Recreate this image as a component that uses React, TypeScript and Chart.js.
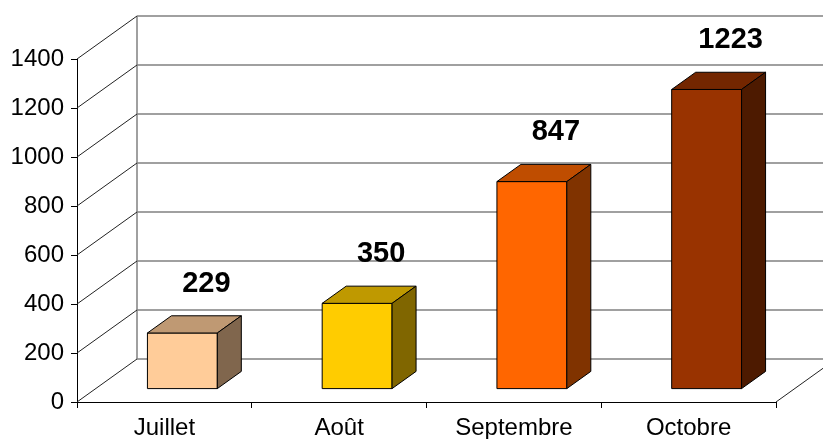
import React, { useEffect, useRef } from 'react';
import { Chart, registerables } from 'chart.js';

Chart.register(...registerables);

// ---- data ----
const categories = ['Juillet', 'Août', 'Septembre', 'Octobre'];
const values = [229, 350, 847, 1223];
const barColors = ['#FFCC99', '#FFCC00', '#FF6600', '#993300'];
const yMin = 0;
const yMax = 1400;
const yStep = 200;

// ---- 3D style constants ----
const DX = 60;
const DY = -43;
const BAR_FRONT = 0.3;
const BAR_BACK = 0.7;
const LABEL_OFFSET = 62;
const AXIS_FONT = "'Liberation Sans', Arial, sans-serif";
const LABEL_FONT = "bold 29px 'Liberation Sans', Arial, sans-serif";

function shade(hex: string, f: number): string {
  const n = parseInt(hex.slice(1), 16);
  const r = Math.round(((n >> 16) & 255) * f);
  const g = Math.round(((n >> 8) & 255) * f);
  const b = Math.round((n & 255) * f);
  return `rgb(${r},${g},${b})`;
}

const threeD = {
  id: 'threeD',
  beforeDatasetsDraw(chart: any) {
    const { ctx, chartArea } = chart;
    const { left, right } = chartArea;
    const ys = chart.scales.y;
    ctx.save();
    // back wall gridlines
    ctx.strokeStyle = '#808080';
    ctx.lineWidth = 1.5;
    for (let v = yMin; v <= yMax; v += yStep) {
      const py = ys.getPixelForValue(v);
      ctx.beginPath();
      ctx.moveTo(left + DX, py + DY);
      ctx.lineTo(right + DX, py + DY);
      ctx.stroke();
    }
    // back wall left edge
    ctx.beginPath();
    ctx.moveTo(left + DX, ys.getPixelForValue(yMin) + DY);
    ctx.lineTo(left + DX, ys.getPixelForValue(yMax) + DY);
    ctx.stroke();
    // side wall diagonals
    ctx.strokeStyle = '#222';
    ctx.lineWidth = 1;
    for (let v = yMin; v <= yMax; v += yStep) {
      const py = ys.getPixelForValue(v);
      ctx.beginPath();
      ctx.moveTo(left, py);
      ctx.lineTo(left + DX, py + DY);
      ctx.stroke();
    }
    // floor right diagonal
    const y0 = ys.getPixelForValue(yMin);
    ctx.beginPath();
    ctx.moveTo(right, y0);
    ctx.lineTo(right + DX, y0 + DY);
    ctx.stroke();
    ctx.restore();
  },
  afterDatasetsDraw(chart: any) {
    const { ctx } = chart;
    const meta = chart.getDatasetMeta(0);
    ctx.save();
    ctx.lineWidth = 1;
    ctx.strokeStyle = '#000';
    ctx.lineJoin = 'miter';
    meta.data.forEach((bar: any, i: number) => {
      const { x, y, base, width } = bar.getProps(['x', 'y', 'base', 'width'], true);
      const color = barColors[i];
      const fx0 = x - width / 2 + BAR_FRONT * DX;
      const fx1 = fx0 + width;
      const fyTop = y + BAR_FRONT * DY;
      const fyBot = base + BAR_FRONT * DY;
      const ddx = (BAR_BACK - BAR_FRONT) * DX;
      const ddy = (BAR_BACK - BAR_FRONT) * DY;
      // front
      ctx.fillStyle = color;
      ctx.beginPath();
      ctx.rect(fx0, fyTop, width, fyBot - fyTop);
      ctx.fill();
      ctx.stroke();
      // top
      ctx.fillStyle = shade(color, 0.75);
      ctx.beginPath();
      ctx.moveTo(fx0, fyTop);
      ctx.lineTo(fx0 + ddx, fyTop + ddy);
      ctx.lineTo(fx1 + ddx, fyTop + ddy);
      ctx.lineTo(fx1, fyTop);
      ctx.closePath();
      ctx.fill();
      ctx.stroke();
      // side
      ctx.fillStyle = shade(color, 0.5);
      ctx.beginPath();
      ctx.moveTo(fx1, fyTop);
      ctx.lineTo(fx1 + ddx, fyTop + ddy);
      ctx.lineTo(fx1 + ddx, fyBot + ddy);
      ctx.lineTo(fx1, fyBot);
      ctx.closePath();
      ctx.fill();
      ctx.stroke();
      // value label
      ctx.fillStyle = '#000';
      ctx.font = LABEL_FONT;
      ctx.textAlign = 'center';
      ctx.textBaseline = 'middle';
      ctx.fillText(String(values[i]), x + BAR_BACK * DX, y - LABEL_OFFSET);
    });
    ctx.restore();
  },
};

export default function App() {
  const canvasRef = useRef<HTMLCanvasElement | null>(null);

  useEffect(() => {
    if (!canvasRef.current) return;
    const chart = new Chart(canvasRef.current, {
      type: 'bar',
      data: {
        labels: categories,
        datasets: [
          {
            data: values,
            backgroundColor: 'rgba(0,0,0,0)',
            borderWidth: 0,
            categoryPercentage: 1,
            barPercentage: 0.4,
          },
        ],
      },
      options: {
        animation: false,
        responsive: true,
        maintainAspectRatio: false,
        layout: { padding: { top: 59, right: 47, left: 0, bottom: 0 } },
        plugins: { legend: { display: false }, tooltip: { enabled: false } },
        scales: {
          x: {
            offset: true,
            grid: {
              offset: true,
              drawOnChartArea: false,
              drawTicks: true,
              tickLength: 6,
              color: '#000',
              lineWidth: 1,
            },
            border: { display: true, color: '#000', width: 1 },
            ticks: {
              color: '#000',
              font: { family: AXIS_FONT, size: 24 },
              padding: 6,
              maxRotation: 0,
              autoSkip: false,
            },
            afterFit: (s: any) => {
              s.height = 37;
            },
          },
          y: {
            min: yMin,
            max: yMax,
            ticks: {
              stepSize: yStep,
              color: '#000',
              font: { family: AXIS_FONT, size: 24 },
              padding: 7,
              callback: (v: any) => String(v),
            },
            grid: {
              drawOnChartArea: false,
              drawTicks: true,
              tickLength: 6,
              color: '#000',
            },
            border: { display: true, color: '#000', width: 1 },
            afterFit: (s: any) => {
              s.width = 77;
            },
          },
        },
      },
      plugins: [threeD],
    });
    return () => chart.destroy();
  }, []);

  return (
    <div style={{ position: 'fixed', left: 0, top: 0, width: 823, height: 439, background: '#fff' }}>
      <canvas ref={canvasRef} />
    </div>
  );
}
